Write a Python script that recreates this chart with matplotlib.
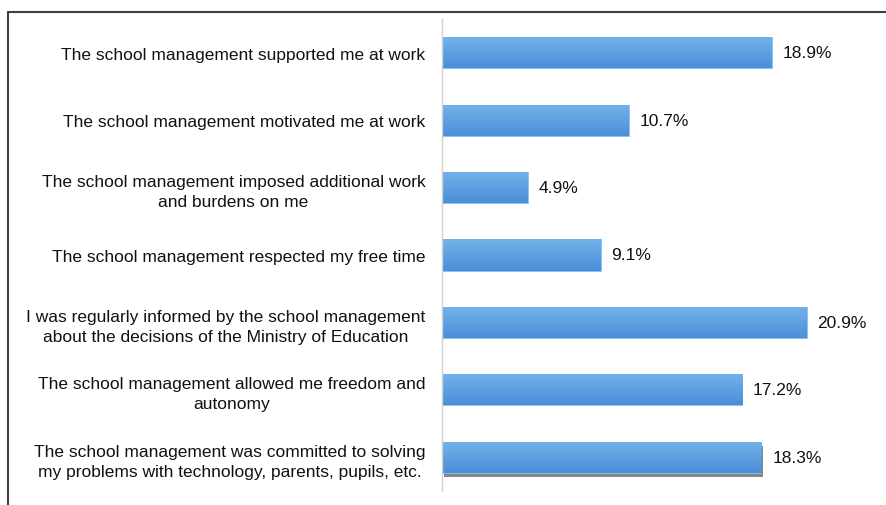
import matplotlib
matplotlib.use("Agg")
import matplotlib.pyplot as plt
import matplotlib.patheffects as pe
import numpy as np
from matplotlib.patches import Rectangle
from matplotlib.colors import LinearSegmentedColormap

# data
labels = [
    "The school management supported me at work",
    "The school management motivated me at work",
    "The school management imposed additional work\nand burdens on me",
    "The school management respected my free time",
    "I was regularly informed by the school management\nabout the decisions of the Ministry of Education",
    "The school management allowed me freedom and\nautonomy",
    "The school management was committed to solving\nmy problems with technology, parents, pupils, etc.",
]
values = [18.9, 10.7, 4.9, 9.1, 20.9, 17.2, 18.3]

plt.rcParams['font.family'] = ['Liberation Sans', 'DejaVu Sans']

fig = plt.figure(figsize=(8.87, 5.06), dpi=100)
ax = fig.add_axes([442 / 887, 1 - 492 / 506, 1 - 442 / 887, 472 / 506])

y = np.arange(len(values))
bh = 0.46
bars = ax.barh(y, values, height=bh, color='#5b9fe0', edgecolor='#8cc0ee', linewidth=0.6, zorder=2)

# vertical gradient inside each bar
cmap = LinearSegmentedColormap.from_list('blu', ['#74b2ea', '#4a8fd9'])
grad = np.linspace(0, 1, 64).reshape(-1, 1)
for b, yy, v in zip(bars, y, values):
    im = ax.imshow(grad, cmap=cmap, aspect='auto', extent=[0, v, yy + bh / 2, yy - bh / 2],
                   zorder=2.5, interpolation='bicubic')
    im.set_clip_path(b)

# shadow on the last bar
bars[-1].set_path_effects([pe.SimplePatchShadow(offset=(1.5, -3), shadow_rgbFace='#222222', alpha=0.55),
                           pe.Normal()])

for yy, v in zip(y, values):
    ax.text(v + 0.62, yy, f"{v}%", va='center', ha='left', fontsize=12.5, color='#111111')

ax.set_xlim(0, 25.5)
ax.set_ylim(len(values) - 0.5, -0.5)
ax.set_xticks([])
ax.set_yticks(y)
ax.set_yticklabels(labels, fontsize=12.5, multialignment='center', color='#111111')
for t in ax.get_yticklabels():
    t.set_linespacing(1.4)
ax.tick_params(axis='y', length=0, pad=12)
for s in ['top', 'right', 'bottom']:
    ax.spines[s].set_visible(False)
ax.spines['left'].set_color('#d0d0d0')
ax.spines['left'].set_linewidth(1.0)

# outer frame (right and bottom sides fall outside the image)
fig.add_artist(Rectangle((8 / 887, -0.1), 1.2, 1 - 13 / 506 + 0.1, transform=fig.transFigure,
                         fill=False, edgecolor='#404040', linewidth=1.5))

fig.savefig("out.png", dpi=100)
